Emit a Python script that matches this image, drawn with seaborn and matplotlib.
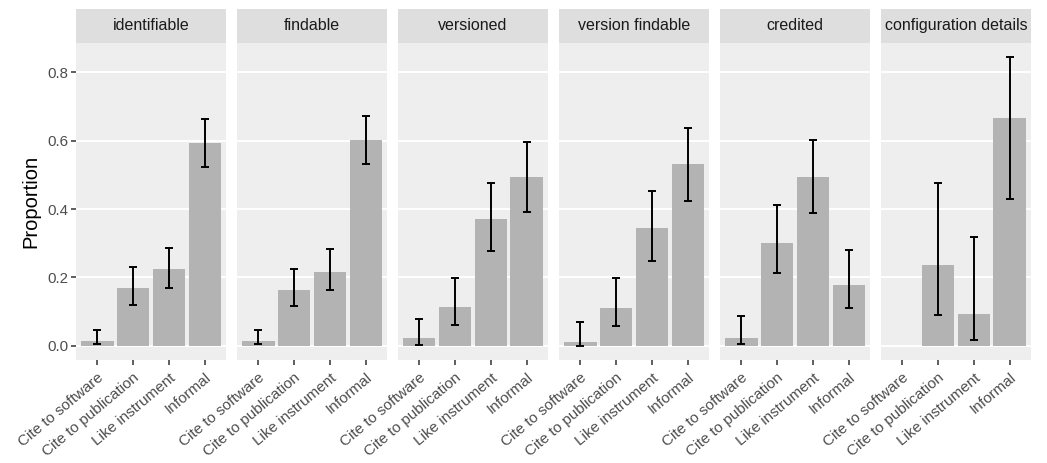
import matplotlib
matplotlib.use("Agg")
import matplotlib.pyplot as plt
from matplotlib.patches import Rectangle
import seaborn as sns
import pandas as pd
import numpy as np

facets = ["identifiable", "findable", "versioned", "version findable",
          "credited", "configuration details"]
categories = ["Cite to software", "Cite to publication", "Like instrument", "Informal"]

identifiable = [0.015, 0.168, 0.223, 0.593]
identifiable_lo = [0.004, 0.120, 0.168, 0.522]
identifiable_hi = [0.046, 0.229, 0.287, 0.663]

findable = [0.015, 0.163, 0.217, 0.603]
findable_lo = [0.004, 0.116, 0.163, 0.532]
findable_hi = [0.046, 0.224, 0.282, 0.671]

versioned = [0.021, 0.113, 0.370, 0.495]
versioned_lo = [0.003, 0.060, 0.277, 0.392]
versioned_hi = [0.079, 0.197, 0.475, 0.597]

version_findable = [0.010, 0.110, 0.344, 0.533]
version_findable_lo = [0.000, 0.057, 0.249, 0.424]
version_findable_hi = [0.068, 0.199, 0.452, 0.638]

credited = [0.021, 0.302, 0.493, 0.179]
credited_lo = [0.004, 0.212, 0.387, 0.109]
credited_hi = [0.086, 0.411, 0.601, 0.279]

configuration = [0.0, 0.237, 0.094, 0.666]
configuration_lo = [np.nan, 0.091, 0.016, 0.430]
configuration_hi = [np.nan, 0.475, 0.317, 0.845]

values = [identifiable, findable, versioned, version_findable, credited, configuration]
lows = [identifiable_lo, findable_lo, versioned_lo, version_findable_lo, credited_lo, configuration_lo]
highs = [identifiable_hi, findable_hi, versioned_hi, version_findable_hi, credited_hi, configuration_hi]

yticks = [0.0, 0.2, 0.4, 0.6, 0.8]

sns.set_theme(style="white")
plt.rcParams['font.family'] = ['Liberation Sans', 'DejaVu Sans']

W, H = 1047, 463
fig = plt.figure(figsize=(W / 100, H / 100), dpi=100)

panel_left0 = 76
panel_w = 150
panel_gap = 11
panel_top = 42.7
panel_bot = 360
strip_top = 9

bg = "#EEEEEE"
strip_col = "#DEDEDE"
ymin, ymax = -0.042, 0.887

for i, name in enumerate(facets):
    left = (panel_left0 + i * (panel_w + panel_gap)) / W
    bottom = (H - panel_bot) / H
    height = (panel_bot - panel_top) / H
    ax = fig.add_axes([left, bottom, panel_w / W, height])
    ax.set_facecolor(bg)
    df = pd.DataFrame({"category": categories, "value": values[i],
                       "lo": lows[i], "hi": highs[i]})
    for yv in yticks:
        ax.axhline(yv, color="white", lw=1.4, zorder=0)
    sns.barplot(data=df, x="category", y="value", order=categories,
                color="#B3B3B3", saturation=1, width=0.9, errorbar=None,
                ax=ax, zorder=2, edgecolor="none")
    xs = np.arange(len(categories))
    v = np.array(values[i])
    lo = np.array(lows[i], dtype=float)
    hi = np.array(highs[i], dtype=float)
    mask = ~np.isnan(lo)
    ax.errorbar(xs[mask], v[mask], yerr=[v[mask] - lo[mask], hi[mask] - v[mask]],
                fmt="none", ecolor="black", elinewidth=1.4, capsize=2.6,
                capthick=1.4, zorder=3)
    ax.set_xlim(-0.6, 3.6)
    ax.set_ylim(ymin, ymax)
    ax.set_yticks(yticks)
    ax.set_xlabel("")
    for s in ax.spines.values():
        s.set_visible(False)
    ax.tick_params(axis="x", bottom=True, length=3.6, width=1.1, color="#333333",
                   labelsize=11, labelcolor="#4D4D4D", pad=4)
    ax.set_xticks(xs)
    ax.set_xticklabels(categories, rotation=40, ha="right", rotation_mode="anchor")
    if i == 0:
        ax.tick_params(axis="y", left=True, length=3.6, width=1.1, color="#333333",
                       labelsize=10.8, labelcolor="#4D4D4D", pad=2)
        ax.set_yticklabels([f"{t:.1f}" for t in yticks])
        ax.set_ylabel("Proportion", fontsize=14.5, color="black", labelpad=5)
    else:
        ax.tick_params(axis="y", left=False, labelleft=False)
        ax.set_ylabel("")
    # strip
    strip_h = (panel_top - strip_top) / (panel_bot - panel_top)
    rect = Rectangle((0, 1), 1, strip_h, transform=ax.transAxes,
                     facecolor=strip_col, edgecolor="none", clip_on=False, zorder=5)
    ax.add_patch(rect)
    ax.text(0.5, 1 + strip_h / 2, name, transform=ax.transAxes, ha="center",
            va="center", fontsize=11.5, color="#1A1A1A", zorder=6)

fig.savefig("out.png", dpi=100, facecolor="white")
